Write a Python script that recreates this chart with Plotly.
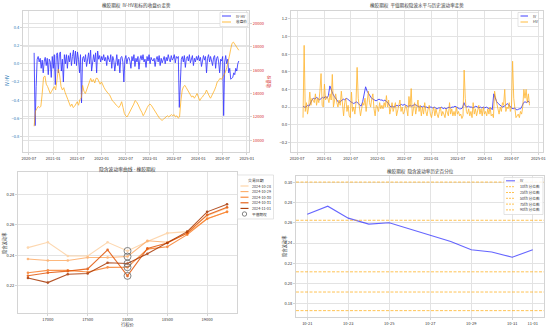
import numpy as np
import pandas as pd
import plotly.graph_objects as go

# ======================= DATA =======================
series_start = "2020-08-10"
series_end = "2024-11-01"

# IV-HV (roughly weekly)
ivhv_values = [
    0.12, -0.68, -0.25,
    0.05, 0.08, 0.02, 0.06,
    -0.05, 0.04, -0.10, 0.03,
    0.07, -0.02, 0.06, -0.12,
    0.05, 0.02, -0.15, 0.08,
    -0.05, 0.10, -0.23, 0.09,
    0.12, -0.10, 0.10, 0.13,
    -0.08, 0.05, -0.20, 0.10,
    0.00, 0.10, -0.05, 0.09,
    0.02, 0.12, -0.02, 0.08,
    0.15, 0.00, 0.14, -0.02,
    0.13, 0.05, -0.10, 0.10,
    -0.43, 0.06, 0.08, 0.02,
    0.10, -0.03, 0.08, 0.12,
    0.00, 0.15, -0.08, 0.06,
    0.10, 0.02, 0.12, -0.10,
    0.14, 0.05, 0.09, 0.02,
    0.08, 0.04, 0.10, 0.03,
    0.07, -0.02, 0.09, 0.05,
    0.02, 0.10, -0.05, 0.08,
    0.04, -0.08, 0.06, 0.10,
    -0.02, 0.05, -0.10, 0.07,
    0.08, 0.02, -0.20, 0.05,
    0.09, 0.00, 0.06, 0.07,
    0.03, -0.05, 0.08, 0.03,
    0.10, -0.03, 0.06, 0.02,
    0.08, -0.06, 0.05, 0.09,
    0.04, 0.10, 0.02, 0.05,
    -0.04, 0.08, 0.03, 0.10,
    0.00, 0.07, 0.04, 0.03,
    0.06, -0.03, 0.05, 0.08,
    0.02, 0.09, -0.02, 0.06,
    0.01, 0.05, 0.08, 0.00,
    0.07, 0.03, 0.10, 0.05,
    0.02, 0.09, 0.04, 0.06,
    0.10, 0.01, 0.08, 0.06,
    0.08, -0.48, -0.10, 0.05,
    0.08, 0.02, 0.09, -0.04,
    0.06, 0.08, 0.03, 0.10,
    0.01, 0.05, 0.09, -0.02,
    0.06, 0.02, 0.08, 0.04,
    0.09, 0.03, 0.07, -0.03,
    0.05, 0.09, 0.04, 0.08,
    -0.10, 0.06, 0.10, 0.02,
    0.08, 0.04, -0.02, 0.07,
    0.09, -0.05, 0.06, 0.08,
    0.02, -0.10, 0.05, 0.03,
    0.08, -0.57, 0.02, 0.09,
    0.00, 0.05, -0.10, -0.05,
    -0.17, -0.16, -0.15, -0.10,
    -0.12, -0.05, -0.08, 0.00,
    0.03,
]

# Underlying close price
close_values = [
    11200, 12500,
    12700, 12900, 12800,
    12900, 14000, 15400,
    15500, 14800, 14600,
    14300, 14000, 14200,
    14400, 14600, 14300,
    15000, 16100, 15500,
    14600, 14300, 14500,
    14100, 13700, 13500,
    13200, 12900, 13100,
    12800, 12900, 13100,
    13300, 13000, 13500,
    13600, 14700, 14200,
    14000, 14300, 14600,
    14900, 15300, 15000,
    15200, 14900, 15300,
    15300, 15000, 14800,
    15000, 14700, 14500,
    14300, 14100, 14000,
    13900, 13600, 13400,
    13300, 13100, 13000,
    12900, 12800, 13000,
    13300, 12800, 12300,
    12100, 12000, 12200,
    12400, 12600, 12900,
    13100, 13400, 13300,
    13100, 12800, 12600,
    12400, 12100, 12300,
    12600, 12800, 13000,
    13100, 13000, 12800,
    12600, 12400, 12200,
    12000, 11900, 11800,
    11700, 11800, 11900,
    12000, 12100, 12000,
    12100, 12200, 12100,
    12200, 12000, 12100,
    11900, 12000, 13400,
    14300, 14600, 14700,
    14500, 14300, 14200,
    13900, 13700, 13800,
    13600, 13800, 14000,
    13700, 13400, 13600,
    13700, 13900, 14000,
    14300, 14000, 13800,
    13600, 13800, 14100,
    14300, 14600, 15000,
    15100, 15300, 15200,
    15400, 15600, 15800,
    16200, 16600, 17200,
    17800, 18300, 18400,
    18200, 18000, 17800,
    17700,
]

# ATM implied volatility
iv_values = [
    0.21, 0.20,
    0.20, 0.22, 0.21,
    0.25, 0.28, 0.30,
    0.29, 0.31, 0.30,
    0.28, 0.30, 0.31,
    0.30, 0.32, 0.30,
    0.33, 0.44, 0.38,
    0.35, 0.32, 0.30,
    0.27, 0.25, 0.26,
    0.28, 0.29, 0.28,
    0.30, 0.29, 0.27,
    0.26, 0.25, 0.24,
    0.25, 0.26, 0.24,
    0.22, 0.21, 0.26,
    0.33, 0.43, 0.38,
    0.35, 0.33, 0.30,
    0.29, 0.28, 0.27,
    0.28, 0.29, 0.28,
    0.28, 0.27, 0.28,
    0.26, 0.25, 0.22,
    0.20, 0.21, 0.20,
    0.21, 0.22, 0.21,
    0.22, 0.23, 0.22,
    0.23, 0.22, 0.21,
    0.21, 0.22, 0.21,
    0.22, 0.23, 0.22,
    0.21, 0.20, 0.21,
    0.20, 0.21, 0.20,
    0.20, 0.19, 0.20,
    0.20, 0.19, 0.20,
    0.19, 0.18, 0.19,
    0.19, 0.20, 0.18,
    0.19, 0.18, 0.19,
    0.20, 0.19, 0.20,
    0.20, 0.21, 0.20,
    0.19, 0.18, 0.18,
    0.19, 0.25, 0.21,
    0.20, 0.21, 0.20,
    0.20, 0.19, 0.20,
    0.21, 0.20, 0.19,
    0.20, 0.19, 0.20,
    0.19, 0.20, 0.19,
    0.18, 0.19, 0.17,
    0.35, 0.30, 0.26,
    0.24, 0.22, 0.21,
    0.20, 0.21, 0.22,
    0.24, 0.22, 0.20,
    0.19, 0.18, 0.19,
    0.17, 0.17, 0.18,
    0.18, 0.21, 0.25,
    0.26, 0.25, 0.27, 0.25,
]

# Historical volatility
hv_values = [
    0.08, 0.90,
    0.15, 0.25, 0.12, 0.20,
    0.37, 0.22, 0.30, 0.28,
    0.25, 0.35, 0.22, 0.30,
    0.25, 0.38, 0.58, 0.22,
    0.20, 0.46, 0.28, 0.32,
    0.30, 0.25, 0.35, 0.28,
    0.57, 0.20, 0.30, 0.35,
    0.25, 0.20, 0.28, 0.22,
    0.38, 0.18, 0.10, 0.25,
    0.30, 0.15, 0.22, 0.10,
    0.08, 0.37, 0.15, 0.20,
    0.12, 0.25, 0.65, 0.30,
    0.20, 0.10, 0.18, 0.25,
    0.22, 0.30, 0.15, 0.28,
    0.38, 0.25, 0.20, 0.30,
    0.35, 0.18, 0.10, 0.22,
    0.20, 0.15, 0.25, 0.18,
    0.22, 0.18, 0.25, 0.20,
    0.33, 0.20, 0.28, 0.12,
    0.18, 0.25, 0.15, 0.20,
    0.25, 0.10, 0.18, 0.22,
    0.28, 0.15, 0.20, 0.12,
    0.15, 0.22, 0.18, 0.10,
    0.32, 0.20, 0.41, 0.10,
    0.18, 0.25, 0.12, 0.20,
    0.28, 0.15, 0.22, 0.10,
    0.20, 0.12, 0.25, 0.15,
    0.10, 0.18, 0.22, 0.12,
    0.08, 0.15, 0.20, 0.10,
    0.18, 0.12, 0.08, 0.15,
    0.20, 0.10, 0.15, 0.12,
    0.08, 0.18, 0.12, 0.10,
    0.25, 0.12, 0.18, 0.10,
    0.15, 0.10, 0.20, 0.12,
    0.15, 0.10, 0.12, 0.07,
    0.10, 0.62, 0.30, 0.15,
    0.12, 0.18, 0.10, 0.15,
    0.08, 0.25, 0.12, 0.18,
    0.10, 0.15, 0.22, 0.12,
    0.18, 0.10, 0.20, 0.12,
    0.15, 0.10, 0.18, 0.12,
    0.20, 0.10, 0.12, 0.08,
    0.38, 0.30, 0.25, 0.18,
    0.12, 0.20, 0.15, 0.25,
    0.22, 0.40, 0.15, 0.20,
    0.18, 0.25, 0.15, 0.20,
    0.72, 0.30, 0.15, 0.08,
    0.10, 0.12, 0.08, 0.15,
    0.12, 0.20, 0.40, 0.30,
    0.40, 0.25, 0.35, 0.22,
]

top_date_ticks = ["2020-07-01", "2021-01-01", "2021-07-01", "2022-01-01", "2022-07-01",
                  "2023-01-01", "2023-07-01", "2024-01-01", "2024-07-01", "2025-01-01"]
close_ticks = [10000, 12000, 14000, 16000, 18000, 20000]

# Implied volatility smile
strikes = [16750, 17000, 17250, 17500, 17750, 18000, 18250, 18500, 18750, 19000, 19250]
smile_dates = ["2024-10-28", "2024-10-29", "2024-10-30", "2024-10-31", "2024-11-01"]
iv_1028 = [0.2450, 0.2485, 0.2395, 0.2395, 0.2485, 0.2428, 0.2490, 0.2545, 0.2555, 0.2660, 0.2710]
iv_1029 = [0.2375, 0.2365, 0.2365, 0.2385, 0.2385, 0.2391, 0.2495, 0.2485, 0.2545, 0.2640, 0.2685]
iv_1030 = [0.2285, 0.2300, 0.2300, 0.2290, 0.2320, 0.2321, 0.2440, 0.2455, 0.2535, 0.2640, 0.2685]
iv_1031 = [0.2265, 0.2285, 0.2295, 0.2310, 0.2435, 0.2264, 0.2445, 0.2480, 0.2545, 0.2665, 0.2715]
iv_1101 = [0.2250, 0.2220, 0.2275, 0.2280, 0.2350, 0.2345, 0.2410, 0.2480, 0.2555, 0.2685, 0.2735]
atm_strike = 18000
smile_ticks = [17000, 17500, 18000, 18500, 19000]

# Recent IV vs. quantiles
recent_dates = ["2024-10-21", "2024-10-22", "2024-10-23", "2024-10-24", "2024-10-25",
                "2024-10-28", "2024-10-29", "2024-10-30", "2024-10-31", "2024-11-01"]
recent_iv = [0.2685, 0.2764, 0.2646, 0.2587, 0.2600, 0.2416, 0.2334, 0.2311, 0.2259, 0.2334]
quantile_names = ["10th 分位数", "25th 分位数", "50th 分位数", "75th 分位数", "90th 分位数"]
quantile_values = [0.1731, 0.1915, 0.2115, 0.2625, 0.3003]
recent_ticks = ["2024-10-21", "2024-10-23", "2024-10-25", "2024-10-27", "2024-10-29",
                "2024-10-31", "2024-11-01"]

# ======================= FIGURE =======================
W, H = 550, 329
FONT = "Noto Sans CJK SC, DejaVu Sans, sans-serif"
GRID = "#e3e3e3"
SPINE = "#d4d4d4"
TXT = "#333333"
TICK = 4.0
BLUE_T = "#1f77b4"
RED_T = "#d62728"
smile_colors = ["#fdd1a2", "#fdac67", "#f9802d", "#e35608", "#a83703"]


def fx(x):
    return x / W


def fy(y):
    return 1 - y / H


fig = go.Figure()

# --- top-left: IV-HV & close ---
d_ivhv = pd.date_range(series_start, series_end, periods=len(ivhv_values))
d_close = pd.date_range(series_start, series_end, periods=len(close_values))
fig.add_trace(go.Scatter(x=d_ivhv, y=ivhv_values, mode="lines", name="IV-HV",
                         line=dict(color="blue", width=0.9), opacity=0.75,
                         xaxis="x", yaxis="y"))
fig.add_trace(go.Scatter(x=d_close, y=close_values, mode="lines", name="收盘价",
                         line=dict(color="orange", width=0.9), opacity=0.75,
                         xaxis="x", yaxis="y2"))

# --- top-right: IV & HV ---
d_iv = pd.date_range(series_start, series_end, periods=len(iv_values))
d_hv = pd.date_range(series_start, series_end, periods=len(hv_values))
fig.add_trace(go.Scatter(x=d_iv, y=iv_values, mode="lines", name="IV",
                         line=dict(color="blue", width=0.9), opacity=0.75,
                         xaxis="x2", yaxis="y3"))
fig.add_trace(go.Scatter(x=d_hv, y=hv_values, mode="lines", name="HV",
                         line=dict(color="orange", width=0.9), opacity=0.75,
                         xaxis="x2", yaxis="y3"))

# --- bottom-left: smile ---
smiles = [iv_1028, iv_1029, iv_1030, iv_1031, iv_1101]
for dname, vals, col in zip(smile_dates, smiles, smile_colors):
    fig.add_trace(go.Scatter(x=strikes, y=vals, mode="lines+markers", name=dname,
                             line=dict(color=col, width=1.1),
                             marker=dict(color=col, size=2.6),
                             opacity=0.85, xaxis="x3", yaxis="y4"))
atm_idx = strikes.index(atm_strike)
fig.add_trace(go.Scatter(x=[atm_strike] * len(smiles), y=[s[atm_idx] for s in smiles],
                         mode="markers", name="平值期权",
                         marker=dict(symbol="circle-open", size=7, color="#666666",
                                     line=dict(width=0.8, color="#666666")),
                         xaxis="x3", yaxis="y4"))

# --- bottom-right: recent IV + quantiles ---
fig.add_trace(go.Scatter(x=pd.to_datetime(recent_dates), y=recent_iv, mode="lines", name="IV",
                         line=dict(color="blue", width=1.1), opacity=0.6,
                         xaxis="x4", yaxis="y5"))

shapes = []
for q in quantile_values:
    shapes.append(dict(type="line", xref="x4 domain", x0=0, x1=1, yref="y5", y0=q, y1=q,
                       line=dict(color="rgba(255,165,0,0.75)", width=0.9, dash="3px,1.5px"),
                       layer="above"))


def axis_base(**kw):
    d = dict(showgrid=True, gridcolor=GRID, gridwidth=0.8, showline=True, linecolor=SPINE,
             linewidth=0.8, mirror=True, zeroline=False, ticks="outside", ticklen=2,
             tickwidth=0.6, tickcolor=SPINE, automargin=False,
             tickfont=dict(size=TICK, color=TXT, family=FONT))
    d.update(kw)
    return d


layout = dict(
    width=W, height=H, margin=dict(l=0, r=0, t=0, b=0),
    paper_bgcolor="white", plot_bgcolor="white", showlegend=False,
    font=dict(family=FONT, color=TXT, size=TICK),
    xaxis=axis_base(domain=[fx(23), fx(249)], anchor="y", type="date",
                    range=["2020-05-18", "2025-01-17"], tickvals=top_date_ticks,
                    tickformat="%Y-%m"),
    yaxis=axis_base(domain=[fy(152), fy(11)], anchor="x", range=[-0.97, 0.58],
                    tick0=0, dtick=0.2, tickformat=".1f",
                    tickfont=dict(size=TICK, color=BLUE_T, family=FONT)),
    yaxis2=axis_base(overlaying="y", side="right", anchor="x", range=[9000, 21060],
                     tickvals=close_ticks, tickformat="d", showline=False,
                     mirror=False, tickfont=dict(size=TICK, color=RED_T, family=FONT)),
    xaxis2=axis_base(domain=[fx(291), fx(543)], anchor="y3", type="date",
                     range=["2020-05-20", "2025-02-01"], tickvals=top_date_ticks,
                     tickformat="%Y-%m"),
    yaxis3=axis_base(domain=[fy(152), fy(11)], anchor="x2", range=[-0.31, 1.29],
                     tick0=0, dtick=0.2, tickformat=".1f"),
    xaxis3=axis_base(domain=[fx(18), fx(237)], anchor="y4", range=[16625, 19375],
                     tickvals=smile_ticks, tickformat="d"),
    yaxis4=axis_base(domain=[fy(313), fy(172)], anchor="x3", range=[0.202, 0.2947],
                     tick0=0, dtick=0.02, tickformat=".2f"),
    xaxis4=axis_base(domain=[fx(296), fx(544)], anchor="y5", type="date",
                     range=["2024-10-20 10:48", "2024-11-01 13:12"], tickvals=recent_ticks,
                     tickformat="%m-%d"),
    yaxis5=axis_base(domain=[fy(317), fy(176)], anchor="x4", range=[0.1668, 0.3063],
                     tick0=0, dtick=0.02, tickformat=".2f"),
)

annotations = []


def text(x, y, s, size=4.5, color=TXT, angle=0, xanchor="center"):
    annotations.append(dict(x=fx(x), y=fy(y), xref="paper", yref="paper", text=s,
                            showarrow=False, textangle=angle, xanchor=xanchor,
                            yanchor="middle", font=dict(size=size, color=color, family=FONT)))


# titles
text(136, 6, "橡胶期权  IV-HV和标的收盘价走势", 4.6)
text(417, 6, "橡胶期权  平值期权隐波水平与历史波动率走势", 4.6)
text(127.5, 169, "隐含波动率曲线 - 橡胶期权", 4.8)
text(420, 171, "橡胶期权  隐含波动率历史百分位", 4.6)
# axis titles
text(7, 81, "IV-HV", 4.3, BLUE_T, -90)
text(268, 81, "收盘价", 4.3, RED_T, -90)
text(4, 243, "隐含波动率", 4.3, TXT, -90)
text(127.5, 324, "行权价", 4.3)
text(284, 246, "隐含波动率", 4.3, TXT, -90)

LEG = 3.7


def legend_box(x0, y0, x1, y1):
    shapes.append(dict(type="rect", xref="paper", yref="paper", x0=fx(x0), x1=fx(x1),
                       y0=fy(y1), y1=fy(y0), line=dict(color="#d8d8d8", width=0.7),
                       fillcolor="rgba(255,255,255,0.85)", layer="above"))


def legend_line(x0, x1, y, color, dash="solid", width=1.0):
    shapes.append(dict(type="line", xref="paper", yref="paper", x0=fx(x0), x1=fx(x1),
                       y0=fy(y), y1=fy(y), line=dict(color=color, width=width, dash=dash),
                       layer="above"))


# top-left legend
legend_box(220, 12.5, 248, 26.5)
legend_line(222, 231, 16, "rgba(0,0,255,0.75)")
legend_line(222, 231, 22, "rgba(255,165,0,0.75)")
text(233.5, 16, "IV-HV", LEG, xanchor="left")
text(233.5, 22, "收盘价", LEG, xanchor="left")

# top-right legend
legend_box(518, 12.5, 538.5, 26.5)
legend_line(520.5, 528, 16, "rgba(0,0,255,0.75)")
legend_line(520.5, 528, 22, "rgba(255,165,0,0.75)")
text(530.5, 16, "IV", LEG, xanchor="left")
text(530.5, 22, "HV", LEG, xanchor="left")

# bottom-left legend
legend_box(237.5, 175, 273.5, 219)
text(255.5, 180, "交易日期", LEG + 0.2)
for i, (dname, col) in enumerate(zip(smile_dates, smile_colors)):
    yy = 186 + i * 5.6
    legend_line(240.5, 248.5, yy, col, width=1.1)
    text(250, yy, dname, LEG, xanchor="left")
shapes.append(dict(type="circle", xref="paper", yref="paper",
                   x0=fx(242.3), x1=fx(246.7), y0=fy(216.2), y1=fy(211.8),
                   line=dict(color="#666666", width=0.8), layer="above"))
text(250, 214, "平值期权", LEG, xanchor="left")

# bottom-right legend
legend_box(504, 177.5, 543, 214.5)
legend_line(506, 515, 180.8, "rgba(0,0,255,0.6)", width=1.1)
text(518, 180.8, "IV", LEG, xanchor="left")
for i, qn in enumerate(quantile_names):
    yy = 186.7 + i * 5.8
    legend_line(506, 515, yy, "rgba(255,165,0,0.75)", dash="2px,1px", width=0.9)
    text(518, yy, qn, LEG, xanchor="left")

layout["shapes"] = shapes
layout["annotations"] = annotations
fig.update_layout(**layout)

fig.write_html("out.html", config={"displayModeBar": False})
